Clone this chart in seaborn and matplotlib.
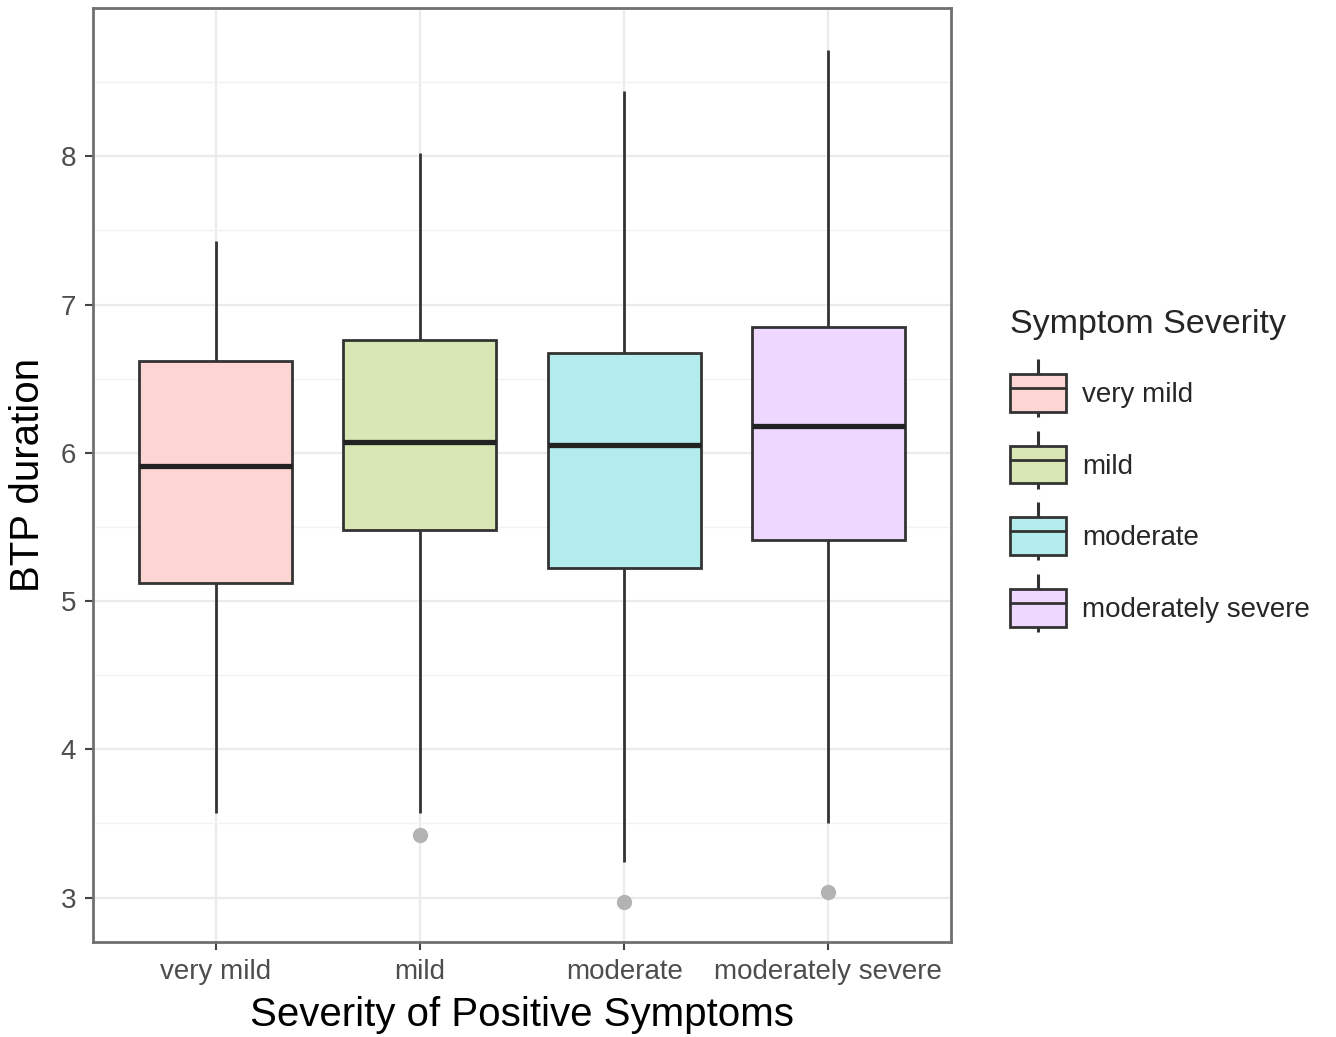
import numpy as np
import pandas as pd
import matplotlib
matplotlib.use("Agg")
import matplotlib.pyplot as plt
from matplotlib.lines import Line2D
from matplotlib.patches import Patch
from matplotlib.legend_handler import HandlerTuple
import seaborn as sns

# Box summary (BTP duration by severity)
categories = ["very mild", "mild", "moderate", "moderately severe"]
whisker_low = [3.57, 3.57, 3.24, 3.50]
q1 = [5.12, 5.48, 5.22, 5.41]
median = [5.91, 6.07, 6.05, 6.18]
q3 = [6.62, 6.76, 6.67, 6.85]
whisker_high = [7.43, 8.02, 8.44, 8.72]
outliers = [[], [3.42], [2.97], [3.04]]
y_ticks = [3, 4, 5, 6, 7, 8]
y_minor = [3.5, 4.5, 5.5, 6.5, 7.5, 8.5]

# ggplot hue colours at alpha 0.3 over white
base_colors = ["#F8766D", "#7CAE00", "#00BFC4", "#C77CFF"]


def blend(hex_color, alpha=0.3):
    rgb = np.array(matplotlib.colors.to_rgb(hex_color))
    return tuple(alpha * rgb + (1 - alpha) * 1.0)


fill_colors = [blend(c) for c in base_colors]


def expand_group(lo, a, m, b, hi, outs):
    # nine values whose quartiles / whiskers equal the read-off summary
    first = outs[0] if outs else lo
    return [first, lo, a, a, m, b, b, hi, hi]


rows = []
for i, cat in enumerate(categories):
    vals = expand_group(whisker_low[i], q1[i], median[i], q3[i],
                        whisker_high[i], outliers[i])
    rows += [(cat, v) for v in vals]
df = pd.DataFrame(rows, columns=["severity", "duration"])

sns.set_theme(style="white")
plt.rcParams["font.family"] = ["Liberation Sans", "DejaVu Sans"]

fig = plt.figure(figsize=(13.36, 10.37), dpi=100)
ax = fig.add_axes([93 / 1336, 1 - 942 / 1037, (951 - 93) / 1336, (942 - 8) / 1037])

line_col = "#333333"
sns.boxplot(
    data=df, x="severity", y="duration", hue="severity",
    order=categories, hue_order=categories,
    palette=dict(zip(categories, fill_colors)),
    saturation=1, width=0.75, linecolor=line_col, linewidth=2.0,
    medianprops={"linewidth": 3.8, "color": "#222222"},
    flierprops={"marker": "o", "markerfacecolor": "#b3b3b3",
                "markeredgecolor": "#b3b3b3", "markersize": 10},
    showcaps=False, legend=False, ax=ax, zorder=3,
)

ax.set_xlim(-0.6, 3.6)
ax.set_ylim(2.7, 9.0)
ax.set_yticks(y_ticks)
ax.set_yticks(y_minor, minor=True)
ax.grid(True, which="major", color="#EBEBEB", linewidth=1.6, zorder=0)
ax.grid(True, which="minor", axis="y", color="#F2F2F2", linewidth=1.0, zorder=0)
ax.set_axisbelow(True)

for s in ax.spines.values():
    s.set_visible(True)
    s.set_color("#707070")
    s.set_linewidth(2.0)

ax.tick_params(axis="both", which="major", length=6, width=1.5, color="#444444",
               labelsize=20, labelcolor="#4D4D4D", pad=6, bottom=True, left=True)
ax.tick_params(axis="y", which="minor", length=0)
ax.set_xlabel("Severity of Positive Symptoms", fontsize=29, color="black", labelpad=8)
ax.set_ylabel("BTP duration", fontsize=29, color="black", labelpad=10)

# legend with little boxplot keys
handles = []
for c in fill_colors:
    whisk = Line2D([], [], linestyle="none", marker="|", markersize=42,
                   markeredgewidth=2.2, color=line_col)
    box = Patch(facecolor=c, edgecolor=line_col, linewidth=2.0)
    med = Line2D([], [], color=line_col, linewidth=2.0)
    handles.append((whisk, box, med))

fig.legend(
    handles, categories, title="Symptom Severity",
    handler_map={tuple: HandlerTuple(ndivide=1)},
    loc="upper left", bbox_to_anchor=(1010 / 1336, 1 - 309 / 1037),
    frameon=False, fontsize=20, title_fontsize=24.5, alignment="left",
    handlelength=2.0, handleheight=1.72, handletextpad=0.6,
    labelspacing=1.22, borderpad=0, borderaxespad=0,
)

fig.savefig("out.png", dpi=100)
